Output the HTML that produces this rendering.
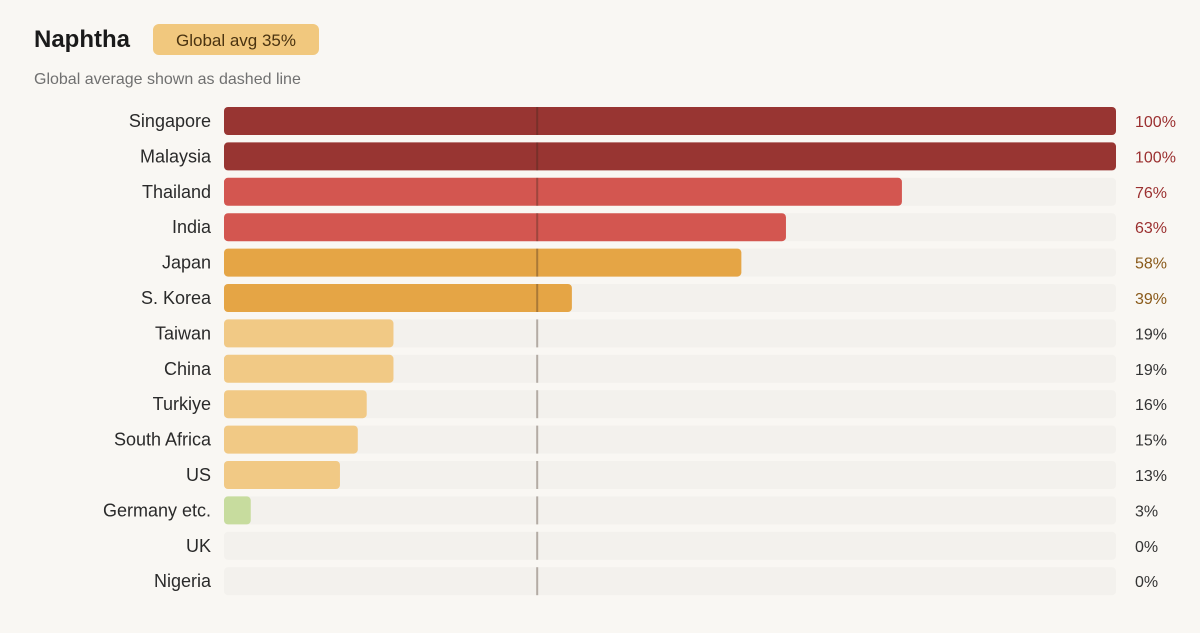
<!DOCTYPE html>
<html><head><meta charset="utf-8"><style>
body{margin:0;background:#f9f7f3;font-family:"Liberation Sans",sans-serif;}
#wrap{position:relative;width:1200px;height:633px;overflow:hidden}
</style></head><body>
<div id="wrap">
<svg id="chart" width="1200" height="633">
<text x="34" y="47" font-size="24" font-weight="bold" fill="#1a1a1a" font-family="Liberation Sans, sans-serif">Naphtha</text>
<rect x="153" y="24" width="166" height="31" rx="6" fill="#f1c87e"/>
<text x="236" y="46" font-size="17" fill="#4a3310" text-anchor="middle" font-family="Liberation Sans, sans-serif">Global avg 35%</text>
<text x="34" y="84" font-size="16" fill="#707070" font-family="Liberation Sans, sans-serif">Global average shown as dashed line</text>
<g id="rows"></g>
</svg>
</div>
<script>
const categories=["Singapore","Malaysia","Thailand","India","Japan","S. Korea","Taiwan","China","Turkiye","South Africa","US","Germany etc.","UK","Nigeria"];
const values=[100,100,76,63,58,39,19,19,16,15,13,3,0,0];
const globalAvg=35;
const ns="http://www.w3.org/2000/svg";
const g=document.getElementById('rows');
const x0=224,x1=1116,top0=107,pitch=35.4,bh=28;
const xs=v=>x0+(x1-x0)*v/100;
const ys=i=>top0+i*pitch;
function mk(t,a){const e=document.createElementNS(ns,t);for(const k in a)e.setAttribute(k,a[k]);g.appendChild(e);return e;}
function col(v){if(v>=90)return"#983532";if(v>=60)return"#d35650";if(v>=35)return"#e5a545";if(v>=10)return"#f1c985";return"#c7dc9e";}
function tcol(v){if(v>=60)return"#9b3030";if(v>=35)return"#8a5a1a";return"#333";}
const ax=xs(globalAvg)+1;
categories.forEach((c,i)=>{
 const y=ys(i),v=values[i];
 const tr=mk('rect',{x:x0,y:y,width:x1-x0,height:bh,rx:4,fill:"#f3f1ed"});
 
 
 if(v>0){const b=mk('rect',{x:x0,y:y,width:xs(v)-x0,height:bh,rx:4,fill:col(v)});
 
 }
 const ln=mk('line',{x1:ax,x2:ax,y1:y,y2:y+bh,stroke:"rgba(60,40,30,0.35)",'stroke-width':2});
 
 
 const l=mk('text',{x:211,y:y+bh/2+6,'font-size':18,fill:"#2a2a2a",'text-anchor':'end','font-family':'Liberation Sans, sans-serif'});
 l.textContent=c;
 
 
 const t=mk('text',{x:1135,y:y+bh/2+6,'font-size':16,fill:tcol(v),'font-family':'Liberation Sans, sans-serif'});
 t.textContent=v+"%";
 
 
});
</script>
</body></html>
